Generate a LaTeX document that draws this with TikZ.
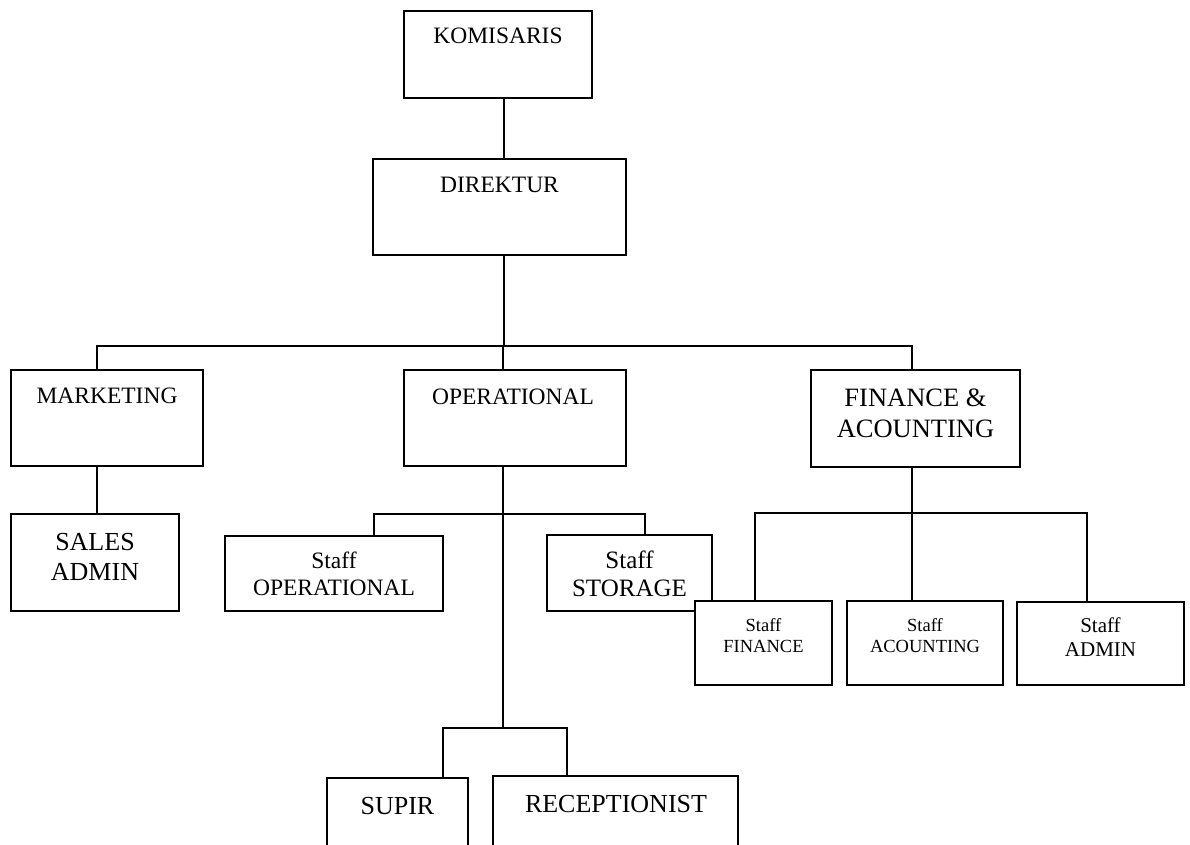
\documentclass[tikz,border=0pt]{standalone}
\usepackage{fontspec}
\setmainfont{Liberation Serif}
\newcommand{\twol}[2]{\begin{tabular}[t]{@{}c@{}}#1\\#2\end{tabular}}
\tikzset{
  orgbox/.style={draw, fill=white, line width=2pt, inner sep=0pt, rectangle},
  lbl/.style={anchor=base, inner sep=0pt},
  conn/.style={line width=2pt},
  fbig/.style={font=\fontsize{23.5}{27}\selectfont},
}
\begin{document}
\begin{tikzpicture}[x=1pt,y=-1pt]
\path[use as bounding box] (0,0) rectangle (1190,845);
\clip (0,0) rectangle (1190,845);
\fill[white] (0,0) rectangle (1190,845);
% boxes
\node[orgbox, minimum width=188pt, minimum height=87pt] (kom) at (498,54.5) {};
\node[orgbox, minimum width=253pt, minimum height=96pt] (dir) at (499.5,207) {};
\node[orgbox, minimum width=192pt, minimum height=96pt] (mkt) at (107,418) {};
\node[orgbox, minimum width=222pt, minimum height=96pt] (ops) at (515,418) {};
\node[orgbox, minimum width=209pt, minimum height=97pt] (fin) at (915.5,418.5) {};
\node[orgbox, minimum width=168pt, minimum height=97pt] (sales) at (95,562.5) {};
\node[orgbox, minimum width=218pt, minimum height=75pt] (sop) at (334,573.5) {};
\node[orgbox, minimum width=165pt, minimum height=76pt] (sst) at (629.5,573) {};
\node[orgbox, minimum width=137pt, minimum height=84pt] (sfin) at (763.5,643) {};
\node[orgbox, minimum width=156pt, minimum height=84pt] (sacc) at (925,643) {};
\node[orgbox, minimum width=167pt, minimum height=83pt] (sadm) at (1100.5,643.5) {};
\node[orgbox, minimum width=141pt, minimum height=92pt] (sup) at (397.5,824) {};
\node[orgbox, minimum width=245pt, minimum height=94pt] (rec) at (615.5,823) {};
% labels
\node[lbl, fbig] (tkom) at (498,44) {KOMISARIS};
\node[lbl, fbig] (tdir) at (499.5,193) {DIREKTUR};
\node[lbl, fbig] (tmkt) at (107,403) {MARKETING};
\node[lbl, fbig] (tops) at (513,404) {OPERATIONAL};
\node[lbl, font=\fontsize{26.5}{31}\selectfont] (tfin) at (915.5,406) {\twol{FINANCE \&}{ACOUNTING}};
\node[lbl, font=\fontsize{26}{30}\selectfont] (tsales) at (95,550) {\twol{SALES}{ADMIN}};
\node[lbl, fbig] (tsop) at (334,568) {\twol{Staff}{OPERATIONAL}};
\node[lbl, font=\fontsize{25}{28}\selectfont] (tsst) at (629.5,568) {\twol{Staff}{STORAGE}};
\node[lbl, font=\fontsize{18.5}{21}\selectfont] (tsfin) at (763.5,631) {\twol{Staff}{FINANCE}};
\node[lbl, font=\fontsize{18.5}{21}\selectfont] (tsacc) at (925,631) {\twol{Staff}{ACOUNTING}};
\node[lbl, font=\fontsize{21}{24}\selectfont] (tsadm) at (1100.5,632) {\twol{Staff}{ADMIN}};
\node[lbl, font=\fontsize{26}{30}\selectfont] (tsup) at (397.5,814) {SUPIR};
\node[lbl, font=\fontsize{26}{30}\selectfont] (trec) at (616,812) {RECEPTIONIST};
% junction coordinates
\coordinate (kx) at (504,346);
\coordinate (mx) at (97,346);
\coordinate (ox) at (503,346);
\coordinate (fx) at (912,346);
\coordinate (osl) at (374,514);
\coordinate (osr) at (645,514);
\coordinate (ob) at (503,728);
\coordinate (sl) at (443,728);
\coordinate (sr) at (567,728);
\coordinate (fbl) at (755,513);
\coordinate (fbm) at (912,513);
\coordinate (fbr) at (1087,513);
% connectors
\draw[conn] (kom.south -| kx) -- (dir.north -| kx);
\draw[conn] (dir.south -| kx) -- (kx);
\draw[conn] (mkt.north -| mx) -- (mx) -- (fx) -- (fin.north -| fx);
\draw[conn] (ox) -- (ops.north -| ox);
\draw[conn] (mkt.south -| mx) -- (sales.north -| mx);
\draw[conn] (sop.north -| osl) -- (osl) -- (osr) -- (sst.north -| osr);
\draw[conn] (ops.south -| ob) -- (ob);
\draw[conn] (sup.north -| sl) -- (sl) -- (sr) -- (rec.north -| sr);
\draw[conn] (fin.south -| fbm) -- (sacc.north -| fbm);
\draw[conn] (sfin.north -| fbl) -- (fbl) -- (fbr) -- (sadm.north -| fbr);
\end{tikzpicture}
\end{document}
